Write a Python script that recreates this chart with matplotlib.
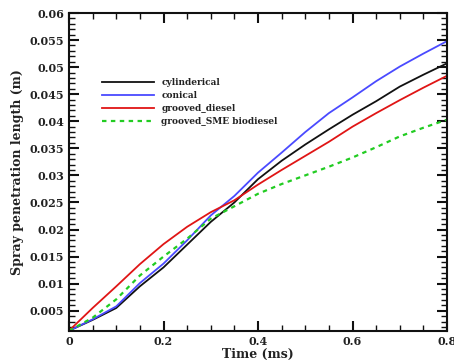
import matplotlib
matplotlib.use("Agg")
import matplotlib.pyplot as plt
from matplotlib.ticker import MultipleLocator, FixedLocator

time_ms = [0.0, 0.05, 0.1, 0.15, 0.2, 0.25, 0.3, 0.35, 0.4, 0.45, 0.5,
           0.55, 0.6, 0.65, 0.7, 0.75, 0.8]
cylinderical = [0.0013, 0.0033, 0.0055, 0.0095, 0.0130, 0.0172, 0.0214, 0.0250,
                0.0293, 0.0327, 0.0357, 0.0385, 0.0412, 0.0437, 0.0464, 0.0486, 0.0507]
conical = [0.0013, 0.0034, 0.0058, 0.0101, 0.0137, 0.0180, 0.0226, 0.0262,
           0.0305, 0.0342, 0.0380, 0.0415, 0.0444, 0.0474, 0.0501, 0.0525, 0.0548]
grooved_diesel = [0.0013, 0.0055, 0.0095, 0.0136, 0.0173, 0.0205, 0.0232, 0.0254,
                  0.0283, 0.0310, 0.0336, 0.0362, 0.0390, 0.0415, 0.0439, 0.0462, 0.0484]
grooved_sme = [0.0013, 0.0037, 0.0071, 0.0115, 0.0150, 0.0183, 0.0220, 0.0243,
               0.0266, 0.0284, 0.0300, 0.0316, 0.0333, 0.0352, 0.0372, 0.0388, 0.0403]

labels = ["cylinderical", "conical", "grooved_diesel", "grooved_SME biodiesel"]
x_ticks = [0, 0.2, 0.4, 0.6, 0.8]
x_ticklabels = ["0", "0.2", "0.4", "0.6", "0.8"]
y_ticks = [0.005, 0.01, 0.015, 0.02, 0.025, 0.03, 0.035, 0.04, 0.045, 0.05, 0.055, 0.06]
y_ticklabels = ["0.005", "0.01", "0.015", "0.02", "0.025", "0.03", "0.035", "0.04",
                "0.045", "0.05", "0.055", "0.06"]

plt.rcParams['font.family'] = ['DejaVu Serif']
plt.rcParams['font.weight'] = 'bold'
txt = '#222222'

fig = plt.figure(figsize=(4.54, 3.62), dpi=100)
ax = fig.add_axes([69/454, 31/362, 378/454, 318/362])

ax.plot(time_ms, cylinderical, color='#111111', lw=1.3, label=labels[0])
ax.plot(time_ms, conical, color='#4a4aff', lw=1.3, label=labels[1])
ax.plot(time_ms, grooved_diesel, color='#e01515', lw=1.3, label=labels[2])
ax.plot(time_ms, grooved_sme, color='#22cc22', lw=1.6, ls=(0, (2, 2)), label=labels[3])

ax.set_xlim(0, 0.8)
ax.set_ylim(0.00125, 0.06)
ax.xaxis.set_major_locator(FixedLocator(x_ticks))
ax.set_xticklabels(x_ticklabels)
ax.yaxis.set_major_locator(FixedLocator(y_ticks))
ax.set_yticklabels(y_ticklabels)
ax.xaxis.set_minor_locator(MultipleLocator(0.05))
ax.yaxis.set_minor_locator(MultipleLocator(0.001))

ax.tick_params(which='both', direction='in', top=True, right=True, colors='#111111',
               labelcolor=txt, labelsize=8)
ax.tick_params(which='major', length=7, width=1.5)
ax.tick_params(which='minor', length=4, width=1.0)
for lbl in ax.get_xticklabels() + ax.get_yticklabels():
    lbl.set_fontweight('bold')
for s in ax.spines.values():
    s.set_linewidth(1.5)
    s.set_color('#111111')

ax.set_xlabel("Time (ms)", fontsize=9, fontweight='bold', color=txt, labelpad=1)
ax.set_ylabel("Spray penetration length (m)", fontsize=9, fontweight='bold', color=txt, labelpad=4)

leg = ax.legend(loc='upper left', bbox_to_anchor=(0.075, 0.81), frameon=False,
                fontsize=6.5, handlelength=5.8, handletextpad=0.8, labelspacing=0.45,
                borderpad=0)
for t in leg.get_texts():
    t.set_color(txt)
    t.set_fontweight('bold')

fig.savefig("out.png", dpi=100)
